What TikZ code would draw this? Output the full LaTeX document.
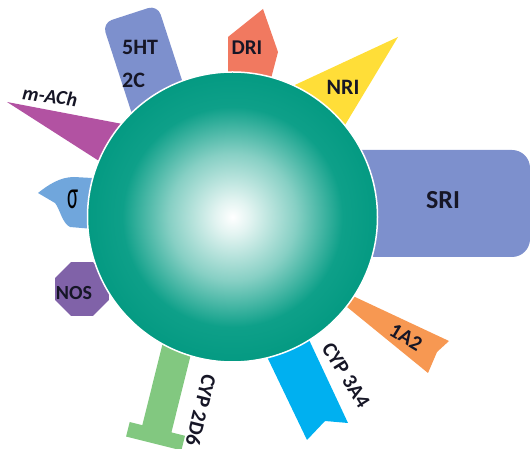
\documentclass[tikz,border=0pt]{standalone}
\usepackage{fontspec}
\setmainfont{Carlito}
\usetikzlibrary{shapes.geometric}

% 颜色
\definecolor{sphereteal}{RGB}{14,160,137}
\definecolor{spheredark}{RGB}{4,154,130}
\definecolor{recblue}{RGB}{125,144,205}
\definecolor{drired}{RGB}{241,121,96}
\definecolor{nriyellow}{RGB}{255,222,56}
\definecolor{cyporange}{RGB}{247,152,82}
\definecolor{cypcyan}{RGB}{0,176,240}
\definecolor{cypgreen}{RGB}{130,200,128}
\definecolor{nospurple}{RGB}{128,98,168}
\definecolor{sigmablue}{RGB}{112,166,220}
\definecolor{achpink}{RGB}{178,82,162}
\definecolor{labelink}{RGB}{22,22,38}

% 球体的径向渐变
\pgfdeclareradialshading{sphere}{\pgfpoint{0bp}{0bp}}{color(0bp)=(white); color(3bp)=(sphereteal!12!white); color(11bp)=(sphereteal!50!white); color(19bp)=(sphereteal); color(25bp)=(spheredark); color(50bp)=(spheredark)}

\tikzset{
  lbl/.style={font=\fontsize{21}{21}\selectfont\bfseries, text=labelink, inner sep=0pt},
}

\begin{document}
\begin{tikzpicture}[x=1pt, y=1pt]
  \useasboundingbox (0,0) rectangle (530,449);

  % 5HT 2C 受体(圆角矩形,倾斜)
  \begin{scope}[shift={(130,435)}, rotate=18]
    \fill[recblue, rounded corners=10pt] (-29,0) rectangle (29,-110);
  \end{scope}
  \node[lbl, anchor=west, align=left, font=\fontsize{22}{33}\selectfont\bfseries] (ht) at (122,385.5) {5HT\\2C};

  % DRI
  \fill[drired] (228,359) -- (228,412) -- (263,440) -- (278,397) -- (268,359) -- cycle;
  \node[lbl] (dri) at (247,401) {DRI};

  % NRI(三角形)
  \fill[nriyellow] (282,358) -- (398,412) -- (339,314) -- cycle;
  \node[lbl, font=\fontsize{22}{22}\selectfont\bfseries] (nri) at (343,362) {NRI};

  % SRI
  \fill[recblue, rounded corners=18pt] (340,192) rectangle (530,299);
  \node[lbl, font=\fontsize{26}{26}\selectfont\bfseries] (sri) at (443,249) {SRI};

  % 1A2(燕尾)
  \fill[cyporange] (339,159.5) -- (449,108) -- (437,97) -- (428,76) -- (336,151) -- cycle;
  \node[lbl, rotate=-31] (ax) at (406,112) {1A2};

  % CYP 3A4
  \fill[cypcyan] (259,109) -- (303,122) -- (348,26) -- (325,28) -- (307,9) -- cycle;
  \node[lbl, rotate=-58] (cyp3a4) at (346,74) {CYP 3A4};

  % CYP 2D6(倒 T 形)
  \begin{scope}[shift={(175,93)}, rotate=-14]
    \fill[cypgreen] (-15,25) -- (-15,-75) -- (-28,-75) -- (-28,-90)
      -- (29,-90) -- (29,-75) -- (15,-75) -- (15,25) -- cycle;
  \end{scope}
  \node[lbl, rotate=-104] (cyp2d6) at (201,39) {CYP 2D6};

  % NOS(八边形)
  \node[regular polygon, regular polygon sides=8, minimum size=58pt,
    inner sep=0pt, fill=nospurple] (nos) at (82,160) {};
  \node[lbl, font=\fontsize{20}{20}\selectfont\bfseries] (nostext) at (74,156) {NOS};

  % sigma 受体
  \fill[sigmablue] (38,256) .. controls (48,264) and (60,272) .. (74,272)
    -- (92,271) -- (105,267) -- (105,219) -- (70,222)
    .. controls (62,226) and (60,240) .. (55,246) -- cycle;
  \node[font=\fontsize{26}{26}\selectfont, xscale=0.8, yscale=1.5, inner sep=0pt] (sigma) at (73,250) {σ};

  % m-ACh
  \fill[achpink] (7,347) -- (133,323) -- (110,281) -- cycle;
  \node[lbl, font=\fontsize{20}{20}\selectfont\bfseries\itshape, rotate=-8] (mach) at (50,353) {m-ACh};

  % 中间的球
  \shadedraw[shading=sphere, draw=white, line width=1.5pt] (232.5,232) circle (145);
\end{tikzpicture}
\end{document}
